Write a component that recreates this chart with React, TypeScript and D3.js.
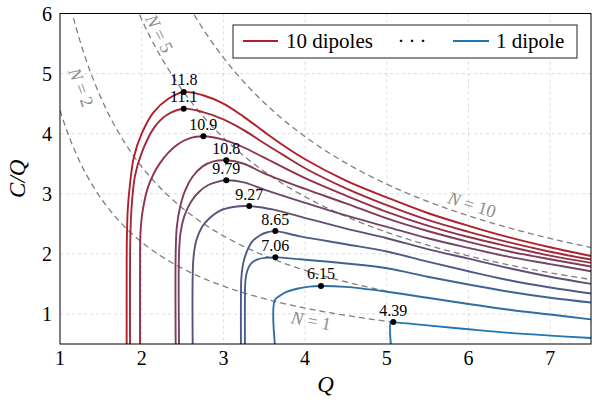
import React from "react";
import * as d3 from "d3";

const WIDTH = 592;
const HEIGHT = 405;
const PLOT = { left: 60, right: 591, top: 13.5, bottom: 344 };

const X_DOMAIN = [1, 7.5];
const Y_DOMAIN = [0.5, 6];
const X_TICKS = [1, 2, 3, 4, 5, 6, 7];
const Y_TICKS = [1, 2, 3, 4, 5, 6];

// Number of dipoles per curve, from 1 to 10
const DIPOLES = [1, 2, 3, 4, 5, 6, 7, 8, 9, 10];
// Value of C at the maximum of C/Q, and the Q where it occurs
const PEAK_LABELS = ["4.39", "6.15", "7.06", "8.65", "9.27", "9.79", "10.8", "10.9", "11.1", "11.8"];
const PEAK_Q = [5.08, 4.195, 3.636, 3.636, 3.317, 3.036, 3.036, 2.755, 2.514, 2.514];

// [Q, C/Q] samples before the maximum
const RISE_1 = [[5.05, 0.5], [5.05, 0.866]];
const RISE_2 = [[3.63, 0.5], [3.63, 1.23], [3.7, 1.31], [3.78, 1.37], [3.9, 1.42], [4.05, 1.455]];
const RISE_3 = [[3.264, 0.5], [3.264, 1.3], [3.27, 1.55], [3.293, 1.72], [3.34, 1.84], [3.42, 1.91], [3.52, 1.935]];
const RISE_4 = [[3.215, 0.5], [3.215, 1.3], [3.22, 1.6], [3.244, 1.85], [3.29, 2.05], [3.35, 2.2], [3.45, 2.31], [3.54, 2.36]];
const RISE_5 = [[2.624, 0.5], [2.624, 1.6], [2.635, 1.95], [2.67, 2.23], [2.74, 2.45], [2.82, 2.58], [2.96, 2.72], [3.12, 2.78]];
const RISE_6 = [[2.457, 0.5], [2.457, 2.0], [2.475, 2.35], [2.52, 2.62], [2.6, 2.86], [2.7, 3.03], [2.82, 3.15], [2.93, 3.2]];
const RISE_7 = [[2.416, 0.5], [2.416, 2.0], [2.43, 2.45], [2.47, 2.78], [2.53, 3.05], [2.62, 3.28], [2.75, 3.46], [2.88, 3.54]];
const RISE_8 = [[1.98, 0.5], [1.98, 1.8], [1.985, 2.35], [2.01, 2.7], [2.08, 3.12], [2.224, 3.51], [2.43, 3.81], [2.6, 3.93]];
const RISE_9 = [[1.857, 0.5], [1.857, 1.5], [1.86, 2.2], [1.875, 2.75], [1.918, 3.3], [2.0, 3.68], [2.142, 4.08], [2.306, 4.31]];
const RISE_10 = [[1.816, 0.5], [1.816, 1.5], [1.818, 2.2], [1.83, 2.75], [1.86, 3.2], [1.906, 3.62], [2.0, 4.0], [2.142, 4.35], [2.326, 4.58]];

// [Q, C/Q] samples after the maximum
const TAIL_1 = [[5.5, 0.81], [6.0, 0.745], [6.5, 0.685], [7.0, 0.64], [7.5, 0.6]];
const TAIL_2 = [[4.5, 1.45], [5.0, 1.37], [5.5, 1.27], [6.0, 1.166], [6.5, 1.07], [7.0, 0.99], [7.5, 0.91]];
const TAIL_3 = [[3.94, 1.91], [4.5, 1.84], [5.0, 1.76], [5.5, 1.62], [6.0, 1.49], [6.5, 1.37], [7.0, 1.27], [7.5, 1.19]];
const TAIL_4 = [[3.94, 2.29], [4.5, 2.16], [5.0, 2.04], [5.5, 1.87], [6.0, 1.71], [6.5, 1.56], [7.0, 1.44], [7.5, 1.34]];
const TAIL_5 = [[3.6, 2.74], [3.94, 2.62], [4.5, 2.42], [5.0, 2.26], [5.5, 2.08], [6.0, 1.92], [6.5, 1.76], [7.0, 1.62], [7.5, 1.5]];
const TAIL_6 = [[3.25, 3.19], [3.5, 3.07], [4.0, 2.85], [4.5, 2.64], [5.0, 2.45], [5.5, 2.26], [6.0, 2.1], [6.5, 1.95], [7.0, 1.83], [7.5, 1.71]];
const TAIL_7 = [[3.25, 3.5], [3.5, 3.34], [4.0, 3.08], [4.5, 2.84], [5.0, 2.59], [5.5, 2.38], [6.0, 2.2], [6.5, 2.04], [7.0, 1.91], [7.5, 1.79]];
const TAIL_8 = [[3.0, 3.9], [3.25, 3.77], [3.5, 3.6], [4.0, 3.26], [4.5, 2.97], [5.0, 2.7], [5.5, 2.47], [6.0, 2.28], [6.5, 2.12], [7.0, 1.97], [7.5, 1.85]];
const TAIL_9 = [[2.75, 4.36], [3.0, 4.24], [3.25, 4.06], [3.5, 3.84], [3.75, 3.63], [4.0, 3.425], [4.5, 3.09], [5.0, 2.81], [5.5, 2.565], [6.0, 2.367], [6.5, 2.19], [7.0, 2.035], [7.5, 1.905]];
const TAIL_10 = [[2.75, 4.64], [3.0, 4.5], [3.25, 4.28], [3.5, 4.03], [3.75, 3.79], [4.0, 3.575], [4.5, 3.22], [5.0, 2.94], [5.5, 2.68], [6.0, 2.467], [6.5, 2.275], [7.0, 2.11], [7.5, 1.965]];

const RISES = [RISE_1, RISE_2, RISE_3, RISE_4, RISE_5, RISE_6, RISE_7, RISE_8, RISE_9, RISE_10];
const TAILS = [TAIL_1, TAIL_2, TAIL_3, TAIL_4, TAIL_5, TAIL_6, TAIL_7, TAIL_8, TAIL_9, TAIL_10];

// Reference curves of constant C (C/Q = K/Q)
const BOUND_N = [1, 2, 5, 10];
const BOUND_K = [4.39, 6.9, 11.8, 15.8];
const BOUND_QMAX = [5.08, 5.0, 7.5, 7.5];
// where each "N = ..." label sits along its curve, and how far off the curve
const BOUND_LABEL_Q = [4.1, 1.42, 2.11, 6.0];
const BOUND_LABEL_OFFSET = [11, 14, -10, -12];

const BLUE = "#1f77b4";
const RED = "#b21f2a";
const FONT = "Liberation Serif";

export default function App() {
  const x = d3.scaleLinear().domain(X_DOMAIN).range([PLOT.left, PLOT.right]);
  const y = d3.scaleLinear().domain(Y_DOMAIN).range([PLOT.bottom, PLOT.top]);
  const color = (n: number) => d3.interpolateRgb(BLUE, RED)((n - 1) / 9);

  const line = d3
    .line<number[]>()
    .x((d) => x(d[0]))
    .y((d) => y(d[1]))
    .curve(d3.curveCatmullRom.alpha(0.5));

  const peaks = DIPOLES.map((n, i) => {
    const q = PEAK_Q[i];
    const c = parseFloat(PEAK_LABELS[i]);
    return [q, c / q];
  });

  const curves = DIPOLES.map((n, i) => [...RISES[i], peaks[i], ...TAILS[i]]);

  const bounds = BOUND_N.map((n, i) => {
    const k = BOUND_K[i];
    const qs = d3.range(X_DOMAIN[0], BOUND_QMAX[i] + 1e-9, 0.02);
    const path = d3
      .line<number>()
      .x((q) => x(q))
      .y((q) => y(k / q))(qs);
    const lq = BOUND_LABEL_Q[i];
    const px = x(lq);
    const py = y(k / lq);
    const ang = Math.atan2(y(k / (lq + 0.01)) - py, x(lq + 0.01) - px);
    const off = BOUND_LABEL_OFFSET[i];
    const lx = px - Math.sin(ang) * off;
    const ly = py + Math.cos(ang) * off;
    return { n, path, lx, ly, deg: (ang * 180) / Math.PI };
  });

  const ts = { fontFamily: FONT };

  return (
    <div style={{ position: "absolute", left: 0, top: 0, width: WIDTH, height: HEIGHT, background: "white" }}>
      <svg width={WIDTH} height={HEIGHT} fontFamily={FONT} style={{ display: "block" }}>
        <defs>
          <clipPath id="plot-clip">
            <rect x={PLOT.left} y={PLOT.top} width={PLOT.right - PLOT.left} height={PLOT.bottom - PLOT.top} />
          </clipPath>
        </defs>

        {/* grid */}
        <g stroke="#d4d4d4" strokeWidth={0.8} strokeDasharray="3,3">
          {X_TICKS.filter((t) => t > X_DOMAIN[0]).map((t) => (
            <line key={"gx" + t} x1={x(t)} x2={x(t)} y1={PLOT.top} y2={PLOT.bottom} />
          ))}
          {Y_TICKS.filter((t) => t < Y_DOMAIN[1]).map((t) => (
            <line key={"gy" + t} x1={PLOT.left} x2={PLOT.right} y1={y(t)} y2={y(t)} />
          ))}
        </g>

        <g clipPath="url(#plot-clip)">
          {/* constant-C reference curves */}
          {bounds.map((b) => (
            <path key={"b" + b.n} d={b.path || ""} fill="none" stroke="#7f7f7f" strokeWidth={1.3} strokeDasharray="6,4" />
          ))}
          {bounds.map((b) => (
            <text
              key={"bl" + b.n}
              x={b.lx}
              y={b.ly}
              transform={`rotate(${b.deg} ${b.lx} ${b.ly})`}
              textAnchor="middle"
              dy="0.35em"
              fontSize={18}
              fill="#8c8c8c"
              style={ts}
            >
              <tspan fontStyle="italic">N</tspan>
              {" = " + b.n}
            </text>
          ))}

          {/* one curve per dipole count */}
          {curves.map((pts, i) => (
            <path key={"c" + i} d={line(pts) || ""} fill="none" stroke={color(DIPOLES[i])} strokeWidth={1.9} />
          ))}
        </g>

        {/* maxima */}
        {peaks.map((p, i) => (
          <circle key={"pd" + i} cx={x(p[0])} cy={y(p[1])} r={3} fill="black" />
        ))}
        {peaks.map((p, i) => (
          <text key={"pl" + i} x={x(p[0])} y={y(p[1]) - 6.5} textAnchor="middle" fontSize={16} fill="black" style={ts}>
            {PEAK_LABELS[i]}
          </text>
        ))}

        {/* frame */}
        <rect
          x={PLOT.left}
          y={PLOT.top}
          width={PLOT.right - PLOT.left}
          height={PLOT.bottom - PLOT.top}
          fill="none"
          stroke="black"
          strokeWidth={1}
        />

        {/* tick labels */}
        {X_TICKS.map((t) => (
          <text key={"tx" + t} x={x(t)} y={PLOT.bottom + 21} textAnchor="middle" fontSize={20} style={ts}>
            {t}
          </text>
        ))}
        {Y_TICKS.map((t) => (
          <text key={"ty" + t} x={PLOT.left - 8} y={y(t)} dy="0.35em" textAnchor="end" fontSize={20} style={ts}>
            {t}
          </text>
        ))}

        {/* axis titles */}
        <text x={(PLOT.left + PLOT.right) / 2} y={392} textAnchor="middle" fontSize={23} fontStyle="italic" style={ts}>
          Q
        </text>
        <text
          x={0}
          y={0}
          transform={`translate(25 ${(PLOT.top + PLOT.bottom) / 2}) rotate(-90)`}
          textAnchor="middle"
          fontSize={23}
          fontStyle="italic"
          style={ts}
        >
          C/Q
        </text>

        {/* legend */}
        <g>
          <rect x={233} y={25} width={344} height={33} fill="white" stroke="#222" strokeWidth={1} />
          <line x1={243} x2={278} y1={41} y2={41} stroke={color(10)} strokeWidth={2} />
          <text x={286} y={41} dy="0.35em" fontSize={21} style={ts}>
            10 dipoles
          </text>
          <text x={414} y={41} dy="0.35em" textAnchor="middle" fontSize={21} letterSpacing={4} style={ts}>
            ···
          </text>
          <line x1={453} x2={489} y1={41} y2={41} stroke={color(1)} strokeWidth={2} />
          <text x={496} y={41} dy="0.35em" fontSize={21} style={ts}>
            1 dipole
          </text>
        </g>
      </svg>
    </div>
  );
}
